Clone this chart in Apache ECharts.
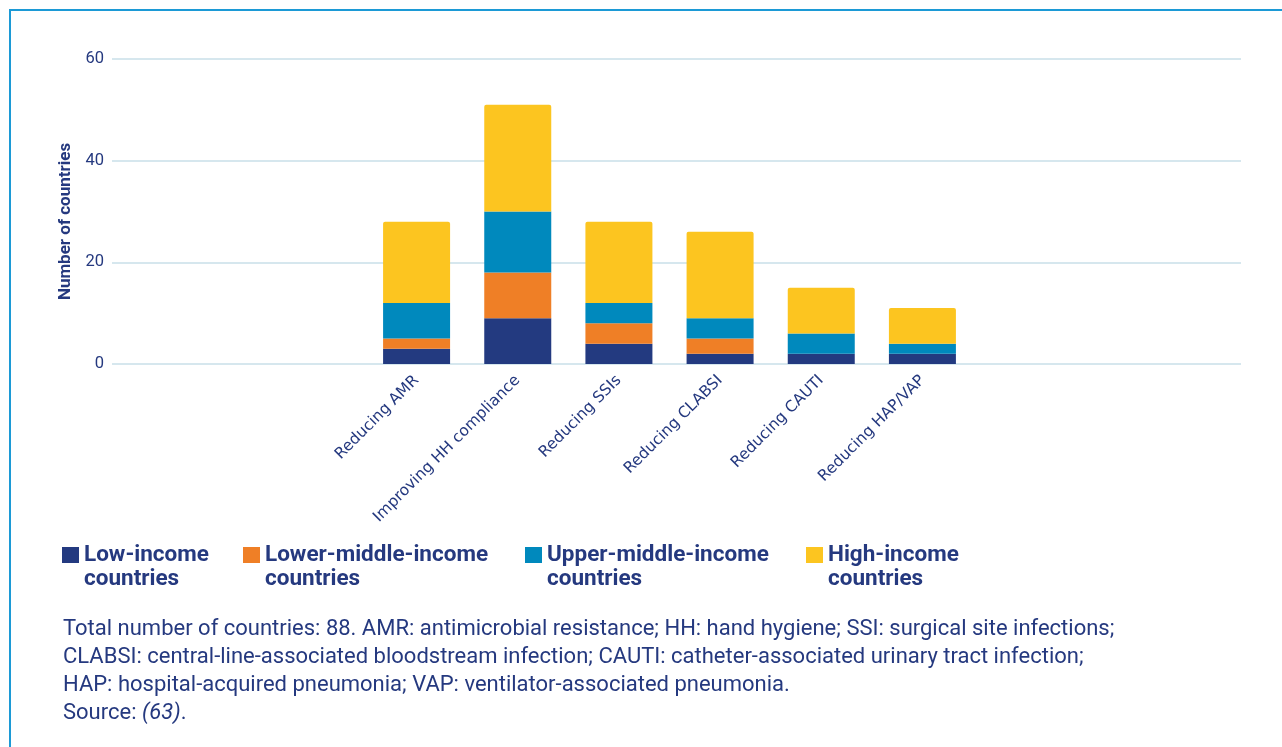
<!DOCTYPE html>
<html>
<head>
<meta charset="utf-8">
<script src="https://cdn.jsdelivr.net/npm/echarts@6/dist/echarts.min.js"></script>
<style>
  html, body { margin: 0; padding: 0; background: #fff; }
  #frame { position: absolute; left: 9px; top: 9px; width: 1300px; height: 760px;
           border-left: 2px solid #1c9ad6; border-top: 2px solid #1c9ad6; }
  #chart { position: absolute; left: 0; top: 0; width: 1282px; height: 747px; }
</style>
</head>
<body>
<div id="frame"></div>
<div id="chart"></div>
<script>
const categories = ['Reducing AMR', 'Improving HH compliance', 'Reducing SSIs', 'Reducing CLABSI', 'Reducing CAUTI', 'Reducing HAP/VAP']
const lowIncome = [3, 9, 4, 2, 2, 2]
const lowerMiddle = [2, 9, 4, 3, 0, 0]
const upperMiddle = [7, 12, 4, 4, 4, 2]
const highIncome = [16, 21, 16, 17, 9, 7]
const seriesNames = ['Low-income countries', 'Lower-middle-income countries', 'Upper-middle-income countries', 'High-income countries']
const colors = ['#233a80', '#ef7f26', '#0089bd', '#fcc520']
const legendLeft = [57, 238, 520, 801]

const textColor = '#25397f'
const font = 'Roboto, "Noto Sans", sans-serif'
const labelFont = '"DejaVu Sans", sans-serif'

const chart = echarts.init(document.getElementById('chart'))

// each legend item sits at its own spot, first text line level with the square
const legends = seriesNames.map((name, i) => ({
  data: [name],
  left: legendLeft[i],
  top: 514,
  icon: 'rect',
  itemWidth: 17,
  itemHeight: 16,
  selectedMode: false,
  formatter: n => '\n' + n.replace(' countries', '\ncountries'),
  textStyle: {
    color: textColor,
    fontFamily: font,
    fontSize: 22.5,
    fontWeight: 'bold',
    lineHeight: 24
  }
}))

const dataSets = [lowIncome, lowerMiddle, upperMiddle, highIncome]

chart.setOption({
  animation: false,
  color: colors,
  textStyle: { fontFamily: font },
  legend: legends,
  title: {
    left: 58,
    top: 610,
    text: 'Total number of countries: 88. AMR: antimicrobial resistance; HH: hand hygiene; SSI: surgical site infections;\n' +
      'CLABSI: central-line-associated bloodstream infection; CAUTI: catheter-associated urinary tract infection;\n' +
      'HAP: hospital-acquired pneumonia; VAP: ventilator-associated pneumonia.\n' +
      'Source: {i|(63)}.',
    textStyle: {
      color: textColor,
      fontFamily: font,
      fontSize: 22,
      fontWeight: 'normal',
      lineHeight: 28,
      rich: {
        i: { fontStyle: 'italic', fontSize: 22, color: textColor, fontFamily: font, lineHeight: 28 }
      }
    }
  },
  grid: [
    { left: 112, right: 41, top: 59, bottom: 383 },
    { left: 366, right: 309, top: 59, bottom: 383 }
  ],
  xAxis: [
    { type: 'value', gridIndex: 0, show: false },
    {
      type: 'category',
      gridIndex: 1,
      data: categories,
      axisLine: { show: false },
      axisTick: { show: false },
      axisLabel: {
        rotate: 45,
        margin: 14,
        color: textColor,
        fontSize: 15.5,
        fontFamily: labelFont
      }
    }
  ],
  yAxis: [
    {
      type: 'value',
      gridIndex: 0,
      min: 0,
      max: 60,
      interval: 20,
      name: 'Number of countries',
      nameLocation: 'middle',
      nameGap: 30,
      nameTextStyle: { color: textColor, fontSize: 17, fontWeight: 'bold', fontFamily: font, padding: [0, 20, 0, 0] },
      axisLine: { show: false },
      axisTick: { show: false },
      axisLabel: { color: textColor, fontSize: 16.5, margin: 8, fontFamily: font },
      splitLine: { lineStyle: { color: '#c9dfe8', width: 1.5 } }
    },
    { type: 'value', gridIndex: 1, min: 0, max: 60, interval: 20, show: false, splitLine: { show: false } }
  ],
  series: seriesNames.map((name, i) => ({
    name: name,
    type: 'bar',
    stack: 'total',
    xAxisIndex: 1,
    yAxisIndex: 1,
    barWidth: 67,
    data: dataSets[i],
    itemStyle: {
      color: colors[i],
      borderRadius: i === 3 ? [2, 2, 0, 0] : 0
    }
  }))
})
</script>
</body>
</html>
